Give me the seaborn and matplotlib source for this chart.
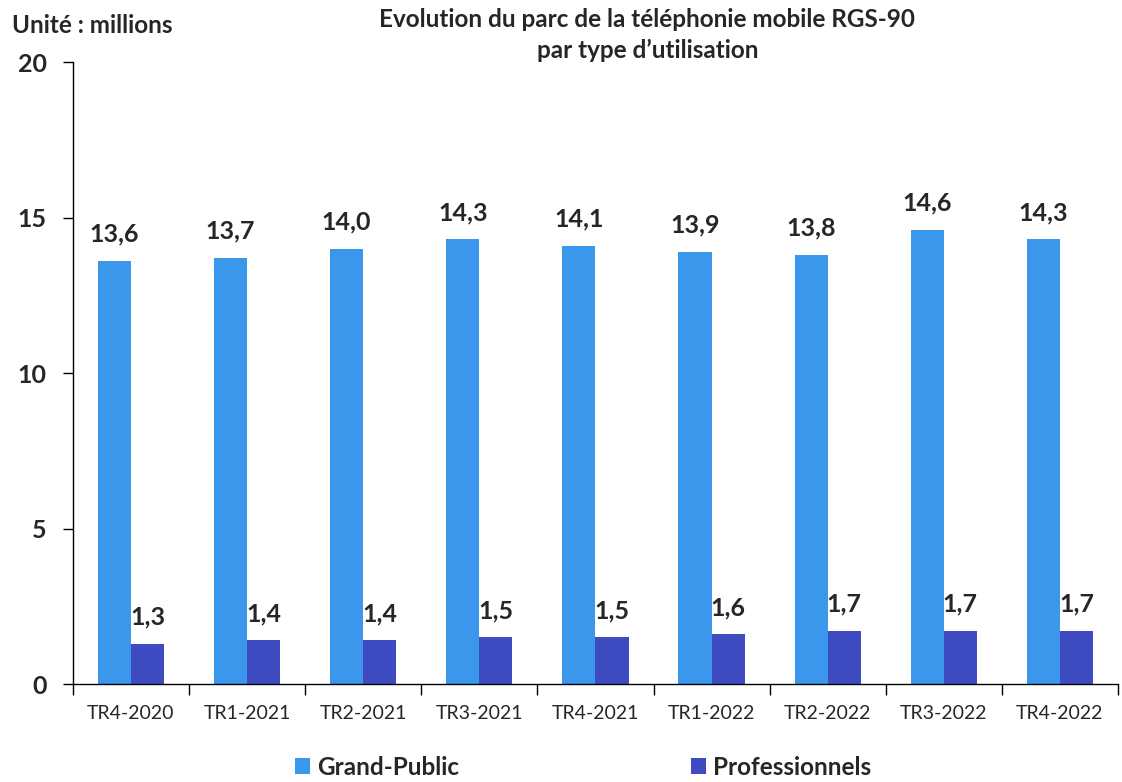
import pandas as pd
import matplotlib.pyplot as plt
import seaborn as sns
from matplotlib.ticker import FixedLocator, NullFormatter

# data
trimestres = ['TR4-2020', 'TR1-2021', 'TR2-2021', 'TR3-2021', 'TR4-2021',
              'TR1-2022', 'TR2-2022', 'TR3-2022', 'TR4-2022']
grand_public = [13.6, 13.7, 14.0, 14.3, 14.1, 13.9, 13.8, 14.6, 14.3]
professionnels = [1.3, 1.4, 1.4, 1.5, 1.5, 1.6, 1.7, 1.7, 1.7]
series = ['Grand-Public', 'Professionnels']
colors = ['#3A97EB', '#3F4BC1']

df = pd.DataFrame({
    'trimestre': trimestres * 2,
    'valeur': grand_public + professionnels,
    'type': [series[0]] * len(trimestres) + [series[1]] * len(trimestres),
})

sns.set_style('white')
plt.rcParams['font.family'] = ['Lato', 'DejaVu Sans']

fig = plt.figure(figsize=(11.22, 7.82), dpi=100)
ax = fig.add_axes([0.065, 0.1253, 0.9314, 0.7954])

sns.barplot(data=df, x='trimestre', y='valeur', hue='type', order=trimestres,
            hue_order=series, palette=colors, width=0.57, saturation=1,
            errorbar=None, linewidth=0, ax=ax)

for cont in ax.containers:
    ax.bar_label(cont, labels=[f"{v:.1f}".replace('.', ',') for v in cont.datavalues],
                 padding=11, fontsize=18, fontweight='bold')

ax.set_xlim(-0.5, len(trimestres) - 0.5)
ax.set_ylim(0, 20)
ax.set_yticks([0, 5, 10, 15, 20])
ax.set_xlabel('')
ax.set_ylabel('')

# x ticks on the category boundaries, labels in between
ax.xaxis.set_major_locator(FixedLocator([i - 0.5 for i in range(len(trimestres) + 1)]))
ax.xaxis.set_major_formatter(NullFormatter())
ax.xaxis.set_minor_locator(FixedLocator(range(len(trimestres))))
ax.set_xticklabels(trimestres, minor=True)
ax.tick_params(axis='x', which='major', length=8, width=1, color='black', direction='out', bottom=True)
ax.tick_params(axis='x', which='minor', length=0, pad=15, labelsize=14)
ax.tick_params(axis='y', length=7, width=1, color='black', direction='out', left=True,
               pad=12, labelsize=18)
for lab in ax.get_yticklabels():
    lab.set_fontweight('bold')

sns.despine(ax=ax)
for s in ['left', 'bottom']:
    ax.spines[s].set_color('black')
    ax.spines[s].set_linewidth(1)

ax.legend_.remove()
handles, labels = ax.get_legend_handles_labels()
fig.legend(handles, labels, loc='center', bbox_to_anchor=(0.52, 0.019), ncol=2,
           frameon=False, handlelength=0.6, handleheight=0.6, handletextpad=0.3,
           columnspacing=9.55, prop={'weight': 'bold', 'size': 17.5})

fig.text(0.577, 0.955, 'Evolution du parc de la téléphonie mobile RGS-90\npar type d’utilisation',
         ha='center', va='center', fontsize=17.5, fontweight='bold', linespacing=1.42)
fig.text(0.011, 0.968, 'Unité : millions', ha='left', va='center', fontsize=17.5, fontweight='bold')

fig.savefig('out.png', dpi=100)
